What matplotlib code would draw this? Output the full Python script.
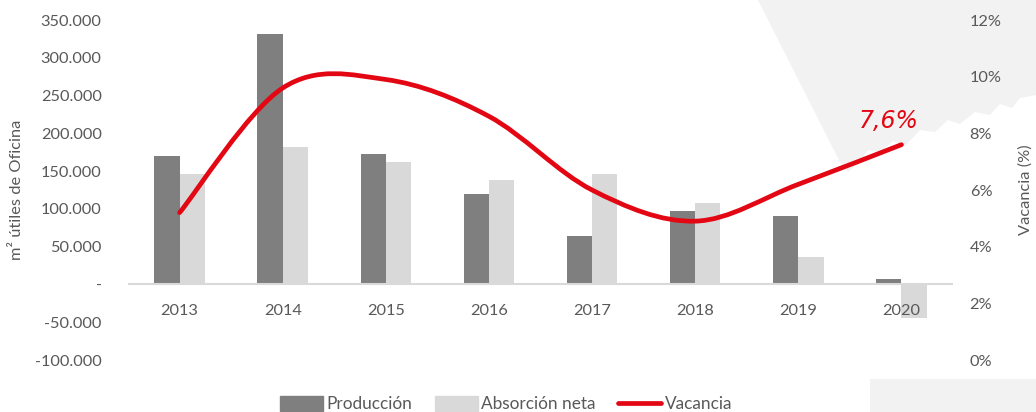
"""
Oficinas: produccion, absorcion neta y vacancia 2013-2020
"""

import matplotlib.pyplot as plt
import matplotlib.ticker as mticker
from matplotlib.patches import Polygon, Rectangle, PathPatch
from matplotlib.lines import Line2D
from matplotlib.path import Path
import numpy as np

#---------------------------------------------------------------------------------------------------
# Data
#---------------------------------------------------------------------------------------------------

years = ['2013', '2014', '2015', '2016', '2017', '2018', '2019', '2020']
produccion = [170000, 332000, 173000, 120000, 64000, 97000, 91000, 7500]
absorcion = [146000, 182000, 162000, 138000, 146000, 108000, 36000, -45000]
vacancia = [0.052, 0.096, 0.099, 0.086, 0.060, 0.049, 0.062, 0.076]

#---------------------------------------------------------------------------------------------------
# Style
#---------------------------------------------------------------------------------------------------

W, H = 1036, 412
fontsize = 11.8
txt_c = '#595959'
c_prod = '#7f7f7f'
c_abs = '#d9d9d9'
c_vac = '#e30613'
c_bg = '#f2f2f2'
plt.rcParams['font.family'] = ['Lato', 'DejaVu Sans']

fig = plt.figure(figsize=(W / 100, H / 100), dpi=100)

# decorative background strokes
brush = [(758, 0), (W, 0), (W, 95), (1020, 98), (1012, 108), (1000, 104), (990, 115),
         (975, 112), (960, 124), (948, 120), (935, 132), (920, 130), (905, 146), (893, 141),
         (880, 152), (868, 150), (858, 164), (848, 172), (842, 166)]
fig.patches.append(Polygon([(x / W, 1 - y / H) for x, y in brush], closed=True,
                           transform=fig.transFigure, fc=c_bg, ec='none', zorder=0))
fig.patches.append(Rectangle((870 / W, 0), (W - 870) / W, (H - 379) / H,
                             transform=fig.transFigure, fc=c_bg, ec='none', zorder=0))

ax = fig.add_axes([128 / W, 1 - 360 / H, (953 - 128) / W, 340 / H])
ax2 = ax.twinx()
ax.set_zorder(2)
ax2.set_zorder(3)
for a in (ax, ax2):
    a.patch.set_visible(False)
    for s in a.spines.values():
        s.set_visible(False)
ax.spines['bottom'].set_position(('data', 0))

# bars
x = np.arange(len(years))
bw = 0.245
ax.bar(x - bw / 2, produccion, width=bw, color=c_prod, label='Producción', zorder=1)
ax.bar(x + bw / 2, absorcion, width=bw, color=c_abs, label='Absorción neta', zorder=1)
ax.axhline(0, color='#d9d9d9', lw=1.5, zorder=1.5)

ax.set_xlim(-0.5, len(years) - 0.5)
ax.set_ylim(-100000, 350000)
ax.set_yticks(np.arange(-100000, 350001, 50000))
ax.yaxis.set_major_formatter(mticker.FuncFormatter(
    lambda v, pos: '-' if v == 0 else f"{v:,.0f}".replace(',', '.')))
ax.set_xticks(x)
ax.set_xticklabels(years)
ax.tick_params(axis='both', length=0, labelsize=fontsize, labelcolor=txt_c)
ax.tick_params(axis='x', pad=14)
ax.tick_params(axis='y', pad=19)
ax.set_ylabel('m² útiles de Oficina', size=fontsize, color=txt_c, labelpad=8)

# smoothed vacancy line (cubic Bezier segments through the points)
pts = np.column_stack([x, vacancia])
ext = np.vstack([pts[0], pts, pts[-1]])
verts = [pts[0]]
codes = [Path.MOVETO]
for i in range(len(pts) - 1):
    p0, p1, p2, p3 = ext[i], ext[i + 1], ext[i + 2], ext[i + 3]
    verts += [p1 + (p2 - p0) / 6, p2 - (p3 - p1) / 6, p2]
    codes += [Path.CURVE4] * 3
ax2.add_patch(PathPatch(Path(verts, codes), fill=False, ec=c_vac, lw=3.4,
                        capstyle='round', zorder=3))
ax2.set_ylim(0, 0.12)
ax2.set_yticks(np.arange(0, 0.121, 0.02))
ax2.yaxis.set_major_formatter(mticker.FuncFormatter(lambda v, pos: f"{v * 100:.0f}%"))
ax2.tick_params(axis='y', length=0, labelsize=fontsize, labelcolor=txt_c, pad=12)
ax2.set_ylabel('Vacancia (%)', size=fontsize, color=txt_c, labelpad=12)

ax2.annotate(f"{vacancia[-1] * 100:.1f}%".replace('.', ','), (x[-1], vacancia[-1]),
             xytext=(-13, 24), textcoords='offset pixels', ha='center', va='center',
             color=c_vac, fontsize=17, style='italic',
             family=['Liberation Sans Narrow', 'DejaVu Sans'])

# legend
handles = [Rectangle((0, 0), 1, 1, color=c_prod), Rectangle((0, 0), 1, 1, color=c_abs),
           Line2D([], [], color=c_vac, lw=3.4, solid_capstyle='round')]
fig.legend(handles, ['Producción', 'Absorción neta', 'Vacancia'], ncol=3, loc='center',
           bbox_to_anchor=(506 / W, 1 - 404 / H), frameon=False, fontsize=fontsize + 0.6,
           labelcolor=txt_c, handlelength=2.5, handleheight=1.0, handletextpad=0.2,
           columnspacing=1.3)

plt.savefig('out.png', dpi=100)
plt.close()
